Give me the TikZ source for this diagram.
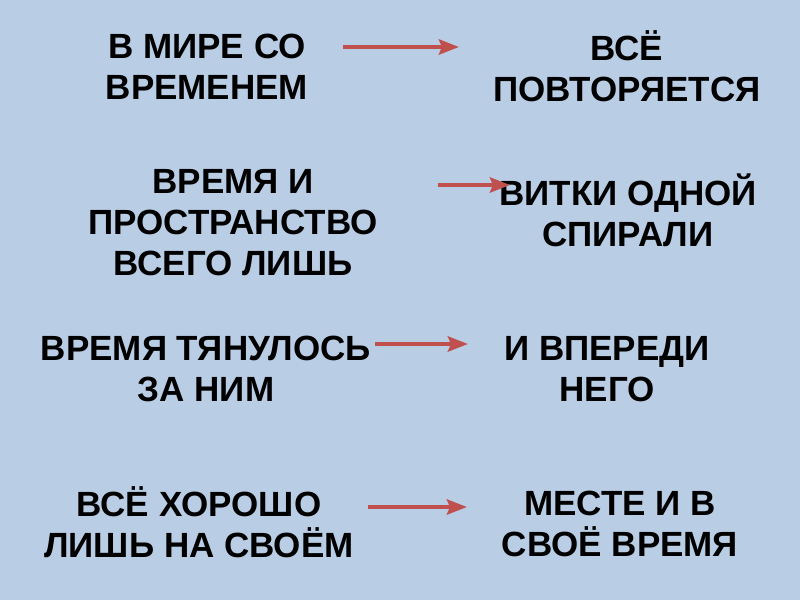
\documentclass[tikz,border=0pt]{standalone}
\usepackage{fontspec}
\setmainfont{Liberation Sans}
\usetikzlibrary{arrows.meta}
\definecolor{bg}{RGB}{185,205,229}
\definecolor{arr}{RGB}{192,80,77}
\tikzset{
  txt/.style={align=center, font=\fontsize{35}{41}\selectfont\bfseries, inner sep=0pt, text=black},
  arrw/.style={draw=arr, line width=4.5pt, -{Stealth[length=20pt,width=15pt,inset=3pt]}},
}
\begin{document}
\begin{tikzpicture}[x=1pt,y=-1pt]
\fill[bg] (0,0) rectangle (800,600);
\useasboundingbox (0,0) rectangle (800,600);
\node[txt] (t1) at (207,67) {В МИРЕ СО\\ВРЕМЕНЕМ};
\node[txt] (t2) at (627,66) {ВСЁ\\ПОВТОРЯЕТСЯ};
\node[txt] (t3) at (233,223) {ВРЕМЯ И\\ПРОСТРАНСТВО\\ВСЕГО ЛИШЬ};
\node[txt] (t4) at (628,210) {ВИТКИ ОДНОЙ\\СПИРАЛИ};
\node[txt] (t5) at (206,369) {ВРЕМЯ ТЯНУЛОСЬ\\ЗА НИМ};
\node[txt] (t6) at (607,369) {И ВПЕРЕДИ\\НЕГО};
\node[txt] (t7) at (199,522) {ВСЁ ХОРОШО\\ЛИШЬ НА СВОЁМ};
\node[txt] (t8) at (620,524) {МЕСТЕ И В\\СВОЁ ВРЕМЯ};
\coordinate (a1s) at (343,47); \coordinate (a1e) at (459,47);
\coordinate (a2s) at (438,185); \coordinate (a2e) at (510,185);
\coordinate (a3s) at (375,344); \coordinate (a3e) at (468,344);
\coordinate (a4s) at (368,507); \coordinate (a4e) at (467,507);
\draw[arrw] (a1s) -- (a1e);
\draw[arrw] (a2s) -- (a2e);
\draw[arrw] (a3s) -- (a3e);
\draw[arrw] (a4s) -- (a4e);
\end{tikzpicture}
\end{document}
